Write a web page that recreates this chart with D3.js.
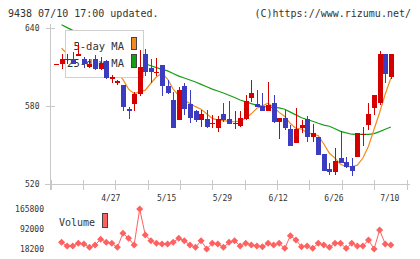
<!DOCTYPE html>
<html lang="ja">
<head>
<meta charset="UTF-8">
<title>9438 chart</title>
<style>
  body { margin: 0; background: #fff; }
  svg { display: block; font-family: "DejaVu Sans Mono", monospace; }
</style>
</head>
<body>
<div id="chart"></div>
<script src="https://d3js.org/d3.v7.min.js"></script>
<script>
// trading days shown (4/13 .. 7/10)
const dates = ["4/13","4/14","4/15","4/16","4/17","4/20","4/21","4/22","4/23","4/24",
  "4/27","4/28","4/30","5/1","5/7","5/8","5/11","5/12","5/13","5/14",
  "5/15","5/18","5/19","5/20","5/21","5/22","5/25","5/26","5/27","5/28",
  "5/29","6/1","6/2","6/3","6/4","6/5","6/8","6/9","6/10","6/11",
  "6/12","6/15","6/16","6/17","6/18","6/19","6/22","6/23","6/24","6/25",
  "6/26","6/29","6/30","7/1","7/2","7/3","7/6","7/7","7/8","7/9","7/10"];

const open  = [612.5,612.5,615.8,616,618.7,616,609.8,616,608.2,615,
  601.3,598,596.2,577.5,581.5,589.2,620,609,605.6,611.5,
  595.4,584.6,569.2,595.6,581.3,576.4,569.2,570,566.4,562.8,
  573.9,570,566.6,565,569.8,586.4,581.3,580,576.4,582.6,
  568,571,562.3,551.8,563.3,570,556.4,556.4,543,531.3,
  529.5,540.3,537,534,540.5,557.7,565.4,578.8,582,620,602.6];
const high  = [612.5,620,620.2,621.5,628.5,618,616,619,618,615.5,
  603.8,600,596.5,579,591,623,623.8,616,616.7,611.5,
  600,591,594.4,597.5,592.3,577,577,577,573,572.3,
  582.6,584,576,576,588.5,600,592.3,590,598.5,588.5,
  571,577,565.4,578.2,569.2,572.3,566,556.4,543,536,
  547.4,561,541,539.8,559.5,564,582.6,588.5,622.3,620,620];
const low   = [612.5,608.7,612.5,612,618.5,609,609.5,608,608,601,
  598,596,576.4,570.2,576.4,587.7,603,598,603,587.7,
  589.5,563,569,573,567,568,563.6,563,562.8,560.3,
  568,565.9,562,564,569.2,583.3,579.5,576,576,566.7,
  554.6,561.5,549.5,551.8,559,552.6,552.6,542.3,530.3,527,
  527,535.9,532,526.4,540.5,549.3,561.6,573,581,598,600.5];
const close = [612.5,616.2,616.3,612.3,620,612,612.2,608.2,613.3,601.3,
  602,599.5,579.5,576.3,589.2,609.8,606,606,606.4,595.2,
  589.8,563.3,592.3,578,570.5,569.2,573.9,563.6,567.2,570,
  569.2,566,567.3,570.5,584,590.3,579.5,576.4,580.8,568,
  571,563.3,549.5,562.3,565.4,556.4,559.5,542.3,530.3,529.5,
  537.7,536,533,530.3,559.5,558.5,573.9,588.5,620,604.6,620];

// moving averages as drawn (no value for the first day)
const ma5 = [null,624.4,620,617.5,615.5,615.4,614.6,612.9,613.1,609.4,
  607.4,604.9,600.5,593,589.5,590.9,592.2,597.5,602.5,605,
  600.7,593,588,584.5,582,579.5,577.5,574,570.5,569.2,
  568.8,568.2,567.9,568.6,570.5,574,578.3,580.1,582.2,579,
  575.1,571.9,566.5,562.8,562.3,559.4,558.6,557.2,550.8,543.6,
  539.9,535.2,533.3,533.3,534.5,540,549,562.1,575,589.1,601.4];
const ma25 = [null,642.5,640.3,638.2,636,634,632.2,630.2,628.3,626.2,
  624.3,622.3,620,618,616.2,614.5,612.5,611,609.5,608.2,
  607,605,603,601.5,600,598.5,596.6,594.8,593,591.5,
  590,588.3,586.5,584.6,583.2,581.8,580.5,579.8,579.2,579,
  578.6,577.5,575.3,573.2,571,569.6,568.3,566.7,565.3,564.4,
  562.5,560.5,559.3,558.3,558.2,558.2,558.2,558.8,560.3,562.1,563.8];

const volume = [null,42800,29300,29300,39100,36700,24400,33000,53900,42800,
  39100,24400,76000,57600,33000,165800,69900,49000,39100,36700,
  36700,42800,57600,49000,33000,24400,49000,18200,39100,36700,
  24400,42800,49000,29300,39100,33000,29300,26800,39100,33000,
  39100,20700,67400,51400,26800,29300,20700,39100,33000,24400,
  39100,39100,20700,39100,29300,29300,51400,18200,88300,36700,33000];

const priceTicks = [520, 580, 640];
const volTicks = [18200, 92000, 165800];
const dateLabels = ["4/27","5/15","5/29","6/12","6/26","7/10"];

const W = 420, H = 259;
const RED = "#d40000", BLUE = "#3c3cc0", ORANGE = "#f08c1e", GREEN = "#14a014";
const VOLC = "#ff6060", AXIS = "#c8c8c8", TXT = "#333";

const svg = d3.select("#chart").append("svg")
  .attr("width", W).attr("height", H);

const idx = d3.range(dates.length);
const x = d3.scaleLinear().domain([0, dates.length - 1]).range([56, 390.8]);
const y = d3.scaleLinear().domain([520, 640]).range([184, 28]);
const yv = d3.scaleLinear().domain([18200, 165800]).range([249, 209]);

// header
svg.append("text").attr("x", 8).attr("y", 16.5).attr("font-size", 10)
  .attr("fill", TXT).text("9438 07/10 17:00 updated.");
svg.append("text").attr("x", 411).attr("y", 16.5).attr("font-size", 10)
  .attr("text-anchor", "end").attr("fill", TXT).text("(C)https://www.rizumu.net/");

// axes
const axisG = svg.append("g").attr("shape-rendering", "crispEdges");
axisG.append("line").attr("x1", 50.5).attr("x2", 50.5).attr("y1", 24).attr("y2", 190)
  .attr("stroke", AXIS);
axisG.append("line").attr("x1", 45).attr("x2", 410).attr("y1", 184.5).attr("y2", 184.5)
  .attr("stroke", AXIS);

const yAxis = d3.axisLeft(y).tickValues(priceTicks).tickSizeInner(5).tickSizeOuter(0).tickPadding(6);
const yg = svg.append("g").attr("transform", "translate(50.5,0)").call(yAxis);
yg.select(".domain").remove();
yg.selectAll(".tick line").attr("x1", -5).attr("x2", 4).attr("stroke", AXIS)
  .attr("shape-rendering", "crispEdges");
yg.selectAll(".tick text").attr("font-family", "DejaVu Sans Mono").attr("font-size", 8)
  .attr("fill", TXT).attr("x", -11);

// bottom tick marks (evenly spaced, independent of dates)
const xt = d3.scaleLinear().domain([0, 11]).range([50.5, 406.5]);
axisG.selectAll("line.xt").data(d3.range(12)).join("line").attr("class", "xt")
  .attr("x1", d => Math.round(xt(d)) + 0.5).attr("x2", d => Math.round(xt(d)) + 0.5)
  .attr("y1", 180).attr("y2", 190).attr("stroke", AXIS);

// date labels
svg.selectAll("text.dl").data(dateLabels).join("text").attr("class", "dl")
  .attr("x", d => x(dates.indexOf(d)) - 1).attr("y", 201)
  .attr("text-anchor", "middle").attr("font-size", 8).attr("fill", TXT).text(d => d);

// moving averages
const maLine = arr => d3.line().defined(i => arr[i] != null).x(i => x(i)).y(i => y(arr[i]))(idx);
svg.append("path").attr("d", maLine(ma25)).attr("fill", "none").attr("stroke", GREEN).attr("stroke-width", 1.2);
svg.append("path").attr("d", maLine(ma5)).attr("fill", "none").attr("stroke", ORANGE).attr("stroke-width", 1.2);

// legend box (covers the MA lines, candles drawn above)
const lg = svg.append("g");
lg.append("rect").attr("x", 65.5).attr("y", 30.5).attr("width", 78).attr("height", 47)
  .attr("fill", "#fff").attr("stroke", "#d0d0d0");
lg.append("text").attr("x", 124).attr("y", 50).attr("text-anchor", "end")
  .attr("font-size", 10.5).attr("fill", TXT).text("5-day MA");
lg.append("text").attr("x", 124).attr("y", 67).attr("text-anchor", "end")
  .attr("font-size", 10.5).attr("fill", TXT).text("25-day MA");
lg.append("rect").attr("x", 131.5).attr("y", 37.5).attr("width", 5).attr("height", 12)
  .attr("fill", ORANGE).attr("stroke", "#444");
lg.append("rect").attr("x", 131.5).attr("y", 54.5).attr("width", 5).attr("height", 13)
  .attr("fill", GREEN).attr("stroke", "#444");

// candles
const cg = svg.append("g").attr("shape-rendering", "crispEdges");
const cx = i => Math.round(x(i));
const col = i => close[i] >= open[i] ? RED : BLUE;
cg.selectAll("line.wick").data(idx).join("line").attr("class", "wick")
  .attr("x1", i => cx(i) + 0.5).attr("x2", i => cx(i) + 0.5)
  .attr("y1", i => y(high[i])).attr("y2", i => y(low[i]))
  .attr("stroke", col);
cg.selectAll("rect.body").data(idx).join("rect").attr("class", "body")
  .attr("x", i => cx(i) - 2).attr("width", 5)
  .attr("y", i => y(Math.max(open[i], close[i])))
  .attr("height", i => Math.max(1.2, Math.abs(y(open[i]) - y(close[i]))))
  .attr("fill", col);

// volume panel
const vIdx = idx.filter(i => volume[i] != null);
svg.selectAll("text.vt").data(volTicks).join("text").attr("class", "vt")
  .attr("x", 44).attr("y", d => yv(d) + 3).attr("text-anchor", "end")
  .attr("font-size", 8).attr("fill", TXT).text(d => d);
svg.append("text").attr("x", 59).attr("y", 225.5).attr("font-size", 10)
  .attr("fill", TXT).text("Volume");
svg.append("rect").attr("x", 102.5).attr("y", 213.5).attr("width", 5).attr("height", 14)
  .attr("fill", VOLC).attr("stroke", "#444");

svg.append("path")
  .attr("d", d3.line().x(i => x(i)).y(i => yv(volume[i]))(vIdx))
  .attr("fill", "none").attr("stroke", VOLC).attr("stroke-width", 1);
svg.selectAll("path.vm").data(vIdx).join("path").attr("class", "vm")
  .attr("transform", i => `translate(${x(i)},${yv(volume[i])})`)
  .attr("d", "M0,-3.5L3.5,0L0,3.5L-3.5,0Z")
  .attr("fill", VOLC);
</script>
</body>
</html>
